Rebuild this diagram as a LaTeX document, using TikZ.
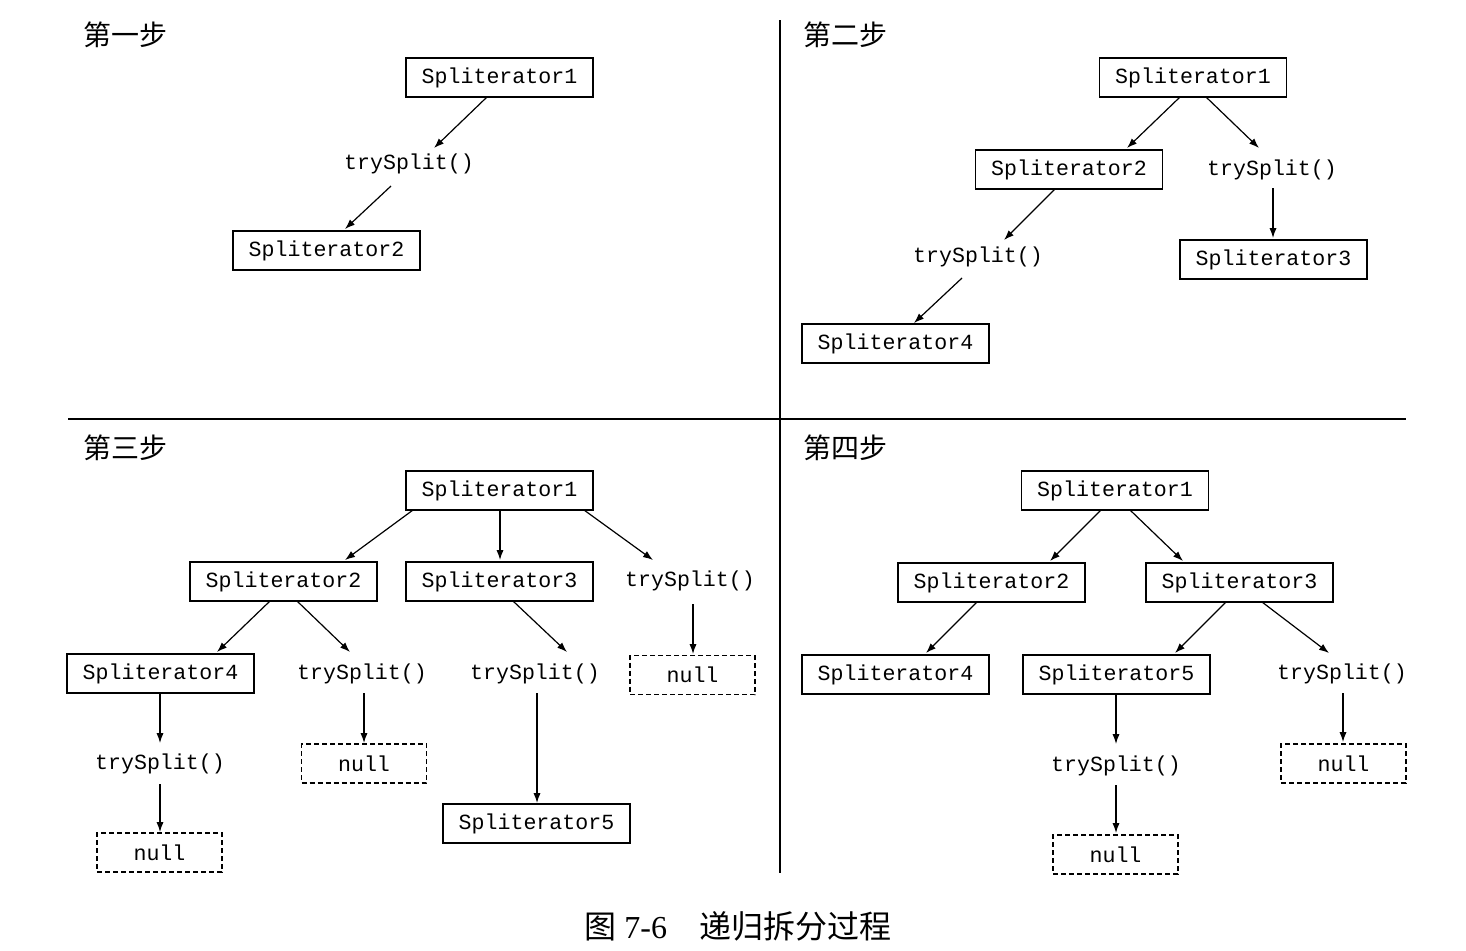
\documentclass[tikz,border=0pt]{standalone}
\usepackage{fontspec}
\setmonofont{Liberation Mono}
\newfontfamily\cjk{Noto Sans CJK SC}
\newfontfamily\capserif{Liberation Serif}
\usetikzlibrary{arrows.meta,calc}
\begin{document}
\begin{tikzpicture}[x=0.5pt,y=-0.5pt,
  sbox/.style={draw,line width=0.75pt,minimum width=93.5pt,minimum height=19.5pt,inner sep=0pt,font=\ttfamily\fontsize{10.8}{12}\selectfont},
  nbox/.style={draw,line width=0.75pt,dash pattern=on 2.5pt off 1.5pt,minimum width=62.5pt,minimum height=19.5pt,inner sep=0pt,font=\ttfamily\fontsize{10.8}{12}\selectfont},
  lbl/.style={inner sep=0pt,font=\ttfamily\fontsize{10.8}{12}\selectfont},
  arr/.style={-{Latex[length=5pt,width=3.6pt]},line width=0.6pt},
  ttl/.style={anchor=west,inner sep=0pt,font=\cjk\fontsize{14}{16}\selectfont},
  divider/.style={line width=0.75pt}]
\useasboundingbox (0,0) rectangle (1466,950);
% dividers
\draw[divider] (780,20) -- (780,873);
\draw[divider] (68,419) -- (1406,419);
% titles
\node[ttl] (t1) at (83,35) {第一步};
\node[ttl] (t2) at (803,35) {第二步};
\node[ttl] (t3) at (83,448) {第三步};
\node[ttl] (t4) at (803,448) {第四步};
% panel 1
\node[sbox] (p1s1) at (499.5,77.5) {Spliterator1};
\node[lbl]  (p1t)  at (409,164) {trySplit()};
\node[sbox] (p1s2) at (326.5,250.5) {Spliterator2};
\draw[arr] ($(p1s1)+(-12.5,19.5)$) -- ($(p1t)+(25,-16)$);
\draw[arr] ($(p1t)+(-18,22)$) -- ($(p1s2)+(18.5,-21.5)$);
% panel 2
\node[sbox] (p2s1) at (1193,77.5) {Spliterator1};
\node[sbox] (p2s2) at (1069,169.5) {Spliterator2};
\node[lbl]  (p2t1) at (1272,170) {trySplit()};
\node[sbox] (p2s3) at (1273.5,259.5) {Spliterator3};
\node[lbl]  (p2t2) at (978,257) {trySplit()};
\node[sbox] (p2s4) at (895.5,343.5) {Spliterator4};
\draw[arr] ($(p2s1)+(-13,19.5)$) -- ($(p2s2)+(58,-21.5)$);
\draw[arr] ($(p2s1)+(13,19.5)$) -- ($(p2t1)+(-13,-22)$);
\draw[arr] ($(p2t1)+(1,18)$) -- ($(p2s3)+(-0.5,-21.5)$);
\draw[arr] ($(p2s2)+(-14,19.5)$) -- ($(p2t2)+(26,-17)$);
\draw[arr] ($(p2t2)+(-16,21)$) -- ($(p2s4)+(18.5,-20.5)$);
% panel 3
\node[sbox] (p3s1) at (499.5,490.5) {Spliterator1};
\node[sbox] (p3s2) at (283.5,581.5) {Spliterator2};
\node[sbox] (p3s3) at (499.5,581.5) {Spliterator3};
\node[lbl]  (p3t1) at (690,581) {trySplit()};
\node[sbox] (p3s4) at (160.5,673.5) {Spliterator4};
\node[lbl]  (p3t2) at (362,674) {trySplit()};
\node[lbl]  (p3t3) at (535,674) {trySplit()};
\node[nbox] (p3n1) at (692.5,675) {null};
\node[lbl]  (p3t4) at (160,764) {trySplit()};
\node[nbox] (p3n2) at (364,763.5) {null};
\node[sbox] (p3s5) at (536.5,823.5) {Spliterator5};
\node[nbox] (p3n3) at (159.5,852.5) {null};
\draw[arr] ($(p3s1)+(-86.5,19.5)$) -- ($(p3s2)+(61.5,-21.5)$);
\draw[arr] ($(p3s1)+(0.5,19.5)$) -- ($(p3s3)+(0.5,-21.5)$);
\draw[arr] ($(p3s1)+(84.5,19.5)$) -- ($(p3t1)+(-37,-21)$);
\draw[arr] ($(p3s2)+(-13.5,19.5)$) -- ($(p3s4)+(56.5,-21.5)$);
\draw[arr] ($(p3s2)+(13.5,19.5)$) -- ($(p3t2)+(-12,-22)$);
\draw[arr] ($(p3s3)+(13.5,19.5)$) -- ($(p3t3)+(32,-22)$);
\draw[arr] ($(p3t1)+(3,23)$) -- ($(p3n1)+(0.5,-21)$);
\draw[arr] ($(p3s4)+(-0.5,19.5)$) -- ($(p3t4)+(0,-21)$);
\draw[arr] ($(p3t2)+(2,19)$) -- ($(p3n2)+(0,-20.5)$);
\draw[arr] ($(p3t3)+(2,19)$) -- ($(p3s5)+(0.5,-20.5)$);
\draw[arr] ($(p3t4)+(0,20)$) -- ($(p3n3)+(0.5,-20.5)$);
% panel 4
\node[sbox] (p4s1) at (1115,490.5) {Spliterator1};
\node[sbox] (p4s2) at (991.5,582.5) {Spliterator2};
\node[sbox] (p4s3) at (1239.5,582.5) {Spliterator3};
\node[sbox] (p4s4) at (895.5,674.5) {Spliterator4};
\node[sbox] (p4s5) at (1116.5,674.5) {Spliterator5};
\node[lbl]  (p4t1) at (1342,674) {trySplit()};
\node[lbl]  (p4t2) at (1116,766) {trySplit()};
\node[nbox] (p4n1) at (1343.5,763.5) {null};
\node[nbox] (p4n2) at (1115.5,854.5) {null};
\draw[arr] ($(p4s1)+(-14,19.5)$) -- ($(p4s2)+(58.5,-21.5)$);
\draw[arr] ($(p4s1)+(15,19.5)$) -- ($(p4s3)+(-56.5,-21.5)$);
\draw[arr] ($(p4s2)+(-14.5,19.5)$) -- ($(p4s4)+(30.5,-21.5)$);
\draw[arr] ($(p4s3)+(-13.5,19.5)$) -- ($(p4s5)+(58.5,-21.5)$);
\draw[arr] ($(p4s3)+(22.5,19.5)$) -- ($(p4t1)+(-13,-21)$);
\draw[arr] ($(p4s5)+(-0.5,19.5)$) -- ($(p4t2)+(0,-22)$);
\draw[arr] ($(p4t1)+(1,19)$) -- ($(p4n1)+(-0.5,-21.5)$);
\draw[arr] ($(p4t2)+(0,19)$) -- ($(p4n2)+(0.5,-21.5)$);
% caption
\node[anchor=west,inner sep=0pt,font=\fontsize{16}{18}\selectfont] (cap) at (584,926)
  {{\cjk 图}\hspace{4pt}{\capserif 7-6}\hspace{16pt}{\cjk 递归拆分过程}};
\end{tikzpicture}
\end{document}
